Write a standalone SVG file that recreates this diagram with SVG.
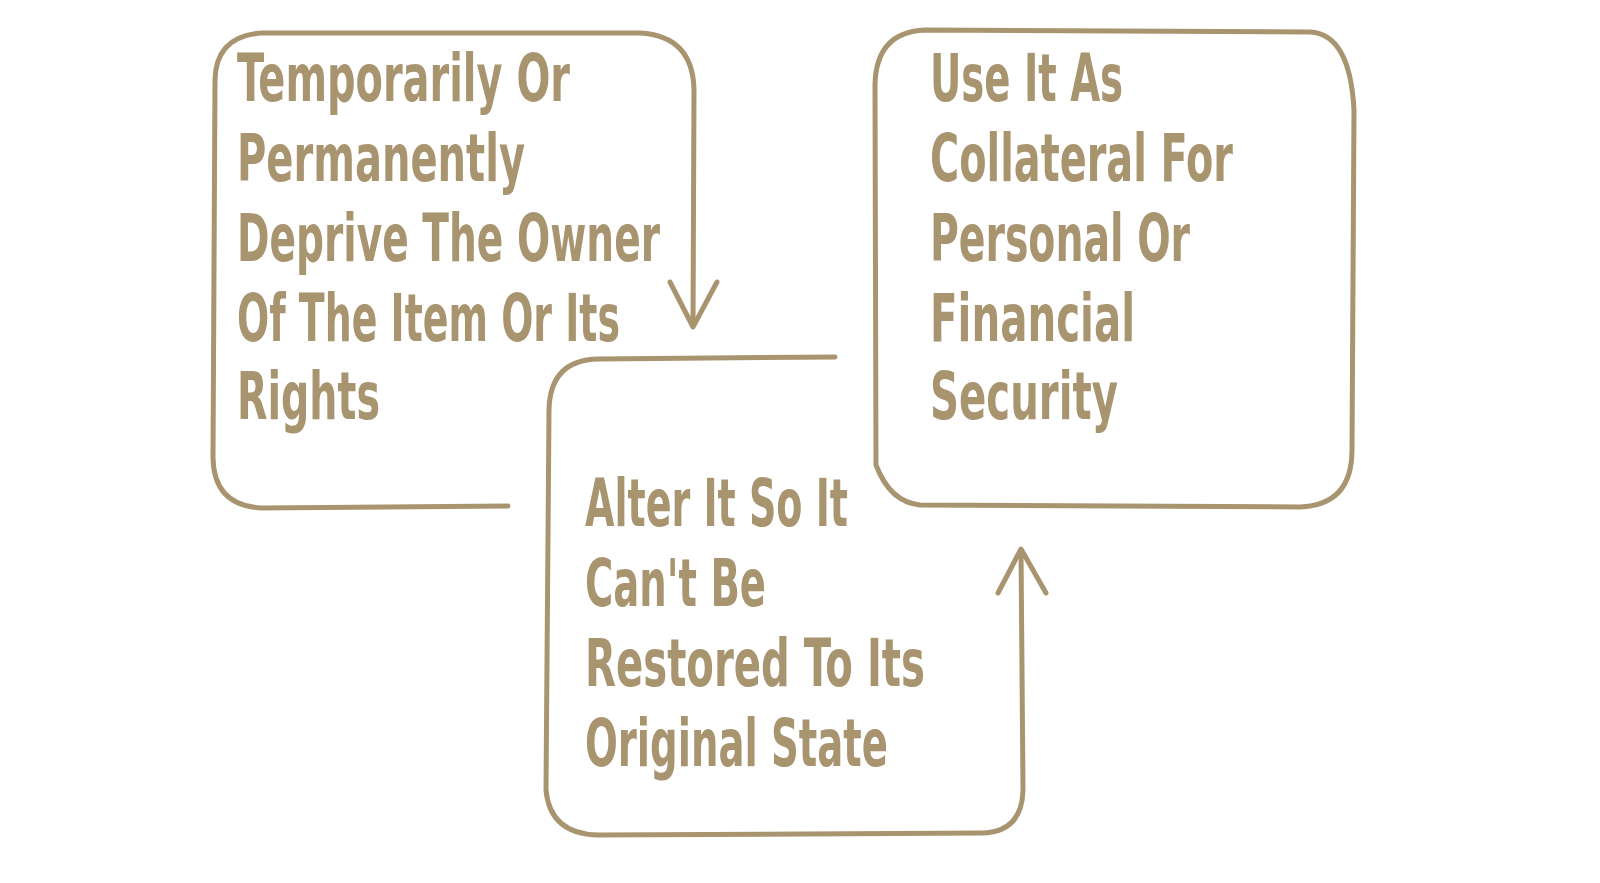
<svg xmlns="http://www.w3.org/2000/svg" width="1600" height="883" viewBox="0 0 1600 883">
<style>
.ln{fill:none;stroke:#a8946f;stroke-width:5;stroke-linecap:round;stroke-linejoin:round}
.t{font-family:"Liberation Sans Narrow","DejaVu Sans Condensed","Liberation Sans",sans-serif;font-weight:bold;font-size:66px;fill:#a8946f}
</style>
<rect width="1600" height="883" fill="#ffffff"/>
<g id="connectors">
<path class="ln" d="M508,506 L262,508 Q214,506 213,458 L215,80 Q216,36 262,33 L640,33 Q693,36 694,90 L693,326"/>
<path class="ln" d="M670,282 L693,327 L717,282"/>
<path class="ln" d="M835,357 L598,359 Q550,360 549,410 L546,790 Q550,834 598,835 L982,833 Q1022,832 1023,790 L1021,550"/>
<path class="ln" d="M998,593 L1021,549 L1046,593"/>
</g>
<g id="node1">
<text class="t" x="237" y="101" textLength="333" lengthAdjust="spacingAndGlyphs">Temporarily Or</text>
<text class="t" x="237" y="181" textLength="288" lengthAdjust="spacingAndGlyphs">Permanently</text>
<text class="t" x="237" y="261" textLength="423" lengthAdjust="spacingAndGlyphs">Deprive The Owner</text>
<text class="t" x="237" y="341" textLength="383" lengthAdjust="spacingAndGlyphs">Of The Item Or Its</text>
<text class="t" x="237" y="419" textLength="143" lengthAdjust="spacingAndGlyphs">Rights</text>
</g>
<g id="node2">
<text class="t" x="585" y="526" textLength="263" lengthAdjust="spacingAndGlyphs">Alter It So It</text>
<text class="t" x="585" y="606" textLength="181" lengthAdjust="spacingAndGlyphs">Can't Be</text>
<text class="t" x="585" y="686" textLength="340" lengthAdjust="spacingAndGlyphs">Restored To Its</text>
<text class="t" x="585" y="766" textLength="303" lengthAdjust="spacingAndGlyphs">Original State</text>
</g>
<g id="node3">
<path class="ln" d="M925,30 L1310,32 Q1350,34 1354,110 L1352,450 Q1352,505 1300,507 L920,505 Q890,502 876,465 L875,85 Q876,32 925,30 Z"/>
<text class="t" x="930" y="101" textLength="193" lengthAdjust="spacingAndGlyphs">Use It As</text>
<text class="t" x="930" y="181" textLength="303" lengthAdjust="spacingAndGlyphs">Collateral For</text>
<text class="t" x="930" y="261" textLength="260" lengthAdjust="spacingAndGlyphs">Personal Or</text>
<text class="t" x="930" y="341" textLength="205" lengthAdjust="spacingAndGlyphs">Financial</text>
<text class="t" x="930" y="419" textLength="188" lengthAdjust="spacingAndGlyphs">Security</text>
</g>
</svg>
